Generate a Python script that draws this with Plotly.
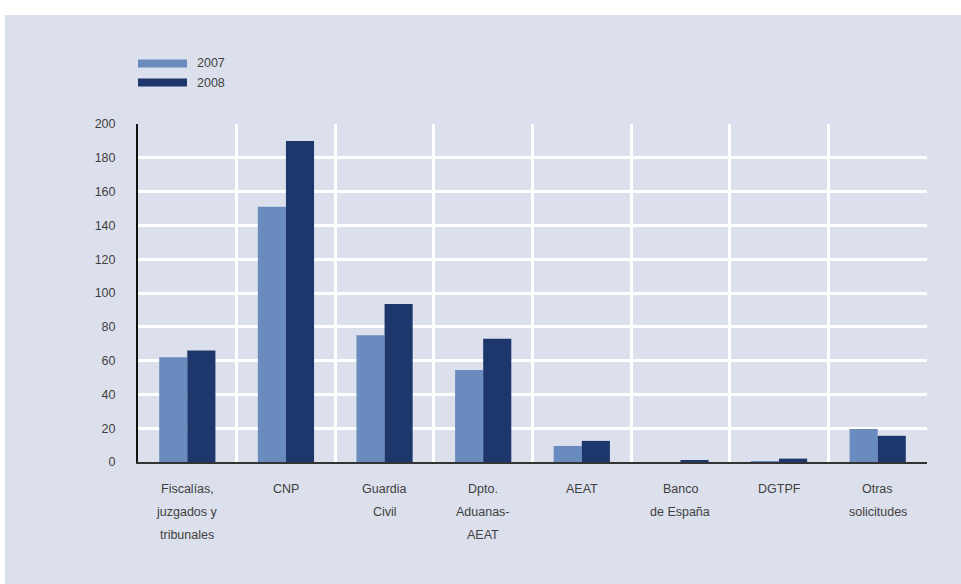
import plotly.graph_objects as go

categories = ["Fiscalías, juzgados y tribunales", "CNP", "Guardia Civil",
              "Dpto. Aduanas-AEAT", "AEAT", "Banco de España", "DGTPF", "Otras solicitudes"]
label_lines = [["Fiscalías,", "juzgados y", "tribunales"], ["CNP"], ["Guardia", "Civil"],
               ["Dpto.", "Aduanas-", "AEAT"], ["AEAT"], ["Banco", "de España"], ["DGTPF"],
               ["Otras", "solicitudes"]]
series_names = ["2007", "2008"]
values_2007 = [62, 151, 75, 54.5, 9.5, 0, 0.5, 19.5]
values_2008 = [66, 190, 93.5, 73, 12.5, 1, 2, 15.5]
y_ticks = [0, 20, 40, 60, 80, 100, 120, 140, 160, 180, 200]

BG = "#dce0ec"
C07 = "#6a8bbd"
C08 = "#1d366b"
TXT = "#3f3f3f"
FONT = "Liberation Sans, Arial, sans-serif"

fig = go.Figure()
fig.add_trace(go.Bar(x=categories, y=values_2007, name=series_names[0], marker_color=C07,
                     marker_line_width=0))
fig.add_trace(go.Bar(x=categories, y=values_2008, name=series_names[1], marker_color=C08,
                     marker_line_width=0))

W, H = 961, 584
L, R, T, B = 138, 34, 124, 122
pw, ph = W - L - R, H - T - B

def px(xp):
    return (xp - L) / pw

def py(yp):
    return (H - B - yp) / ph

shapes = [dict(type="rect", xref="paper", yref="paper", layer="below",
               x0=px(5), x1=px(W + 2), y0=py(H + 2), y1=py(15),
               fillcolor=BG, line_width=0)]
annotations = []
# legend
for i, (name, col) in enumerate(zip(series_names, [C07, C08])):
    yc = 63.5 + 19 * i
    shapes.append(dict(type="rect", xref="paper", yref="paper",
                       x0=px(138), x1=px(187), y0=py(yc + 4), y1=py(yc - 4),
                       fillcolor=col, line_width=0))
    annotations.append(dict(xref="paper", yref="paper", x=px(195), y=py(yc),
                            text=name, showarrow=False, xanchor="left", yanchor="middle",
                            font=dict(size=12.5, color=TXT, family=FONT)))
# category labels
for cat, lines in zip(categories, label_lines):
    for j, line in enumerate(lines):
        annotations.append(dict(xref="x", yref="paper", x=cat, y=0, yshift=-(27 + 23 * j),
                                text=line, showarrow=False, xanchor="center", yanchor="middle",
                                font=dict(size=12.5, color=TXT, family=FONT)))

fig.update_layout(
    width=W, height=H,
    margin=dict(l=L, r=R, t=T, b=B),
    paper_bgcolor="white", plot_bgcolor=BG,
    barmode="group", bargap=0.43, bargroupgap=0,
    showlegend=False,
    font=dict(family=FONT, size=12.5, color=TXT),
    shapes=shapes, annotations=annotations,
    xaxis=dict(type="category", tickson="boundaries", showgrid=True, gridcolor="white",
               gridwidth=3, showticklabels=False, ticks="", showline=True,
               linecolor="#333333", linewidth=2, zeroline=False),
    yaxis=dict(range=[0, 200], tickvals=y_ticks, showgrid=True, gridcolor="white",
               gridwidth=3, showline=True, linecolor="#111111", linewidth=2,
               ticks="", ticklabelstandoff=18, zeroline=False,
               tickfont=dict(size=12.5, color=TXT, family=FONT)),
)

fig.write_html("out.html", config={"displayModeBar": False},
               post_script="document.body.style.margin='0';")
